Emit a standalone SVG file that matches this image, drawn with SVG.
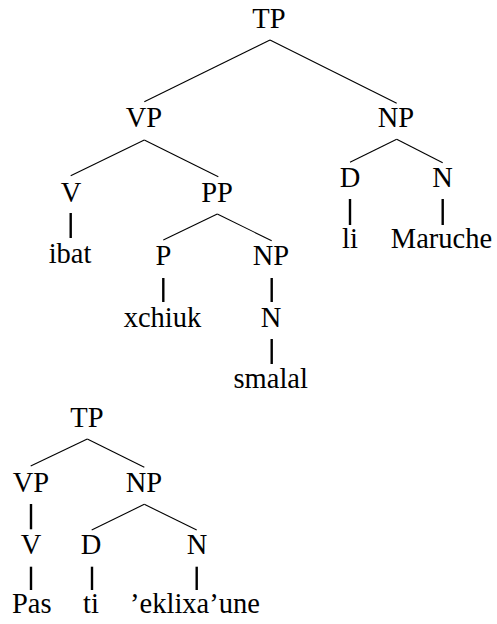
<svg xmlns="http://www.w3.org/2000/svg" width="497" height="624" viewBox="0 0 497 624">
<style>
text{font-family:'Liberation Serif','Times New Roman',serif;font-size:28.5px;fill:#000;text-anchor:middle}
.e{stroke:#000;stroke-width:1.1;fill:none}
.s{stroke:#000;stroke-width:2.4;fill:none}
</style>
<rect width="497" height="624" fill="#fff"/>
<g id="connectors">
<line class="e" x1="270" y1="40" x2="144.3" y2="101.7"/>
<line class="e" x1="270" y1="40" x2="396.7" y2="103.3"/>
<line class="e" x1="144.3" y1="140" x2="70.7" y2="175.7"/>
<line class="e" x1="144.3" y1="140" x2="218.3" y2="176.7"/>
<line class="e" x1="396.7" y1="139.3" x2="350" y2="162.3"/>
<line class="e" x1="396.7" y1="139.3" x2="442.7" y2="162.7"/>
<line class="s" x1="70.7" y1="213" x2="70.7" y2="238"/>
<line class="s" x1="350" y1="199" x2="350" y2="225"/>
<line class="s" x1="442.7" y1="199" x2="442.7" y2="225"/>
<line class="e" x1="217.3" y1="214" x2="163.3" y2="240"/>
<line class="e" x1="217.3" y1="214" x2="271.7" y2="240.7"/>
<line class="s" x1="163.3" y1="278" x2="163.3" y2="302"/>
<line class="s" x1="271.7" y1="278" x2="271.7" y2="302"/>
<line class="s" x1="271.7" y1="339" x2="271.7" y2="364"/>
<line class="e" x1="87.3" y1="439" x2="30.7" y2="466"/>
<line class="e" x1="87.3" y1="439" x2="144.3" y2="467.3"/>
<line class="e" x1="144.3" y1="504.3" x2="91.7" y2="530"/>
<line class="e" x1="144.3" y1="504.3" x2="196.7" y2="530"/>
<line class="s" x1="31" y1="504" x2="31" y2="529.3"/>
<line class="s" x1="31" y1="566.7" x2="31" y2="590"/>
<line class="s" x1="92" y1="566.7" x2="92" y2="590"/>
<line class="s" x1="196.7" y1="566.7" x2="196.7" y2="590"/>
</g>
<g id="t1-TP"><text x="269" y="28">TP</text></g>
<g id="t1-VP"><text x="144" y="127">VP</text></g>
<g id="t1-NP"><text x="396" y="127">NP</text></g>
<g id="t1-V"><text x="71" y="201.5">V</text></g>
<g id="t1-PP"><text x="217" y="201.5">PP</text></g>
<g id="t1-D"><text x="350" y="187">D</text></g>
<g id="t1-N"><text x="442.5" y="187">N</text></g>
<g id="t1-ibat"><text x="70" y="263">ibat</text></g>
<g id="t1-P"><text x="163.5" y="265">P</text></g>
<g id="t1-NP2"><text x="271" y="265">NP</text></g>
<g id="t1-li"><text x="350" y="248">li</text></g>
<g id="t1-Maruche"><text x="441.5" y="248">Maruche</text></g>
<g id="t1-xchiuk"><text x="162.5" y="326.5">xchiuk</text></g>
<g id="t1-N2"><text x="271" y="326.5">N</text></g>
<g id="t1-smalal"><text x="270.7" y="388">smalal</text></g>
<g id="t2-TP"><text x="87" y="426.7">TP</text></g>
<g id="t2-VP"><text x="31" y="491.7">VP</text></g>
<g id="t2-NP"><text x="144" y="491.7">NP</text></g>
<g id="t2-V"><text x="31" y="554">V</text></g>
<g id="t2-D"><text x="91" y="554">D</text></g>
<g id="t2-N"><text x="197" y="554">N</text></g>
<g id="t2-Pas"><text x="31.7" y="613.3">Pas</text></g>
<g id="t2-ti"><text x="91" y="613.3">ti</text></g>
<g id="t2-eklixaune"><text x="195" y="613.3">’eklixa’une</text></g>
</svg>
